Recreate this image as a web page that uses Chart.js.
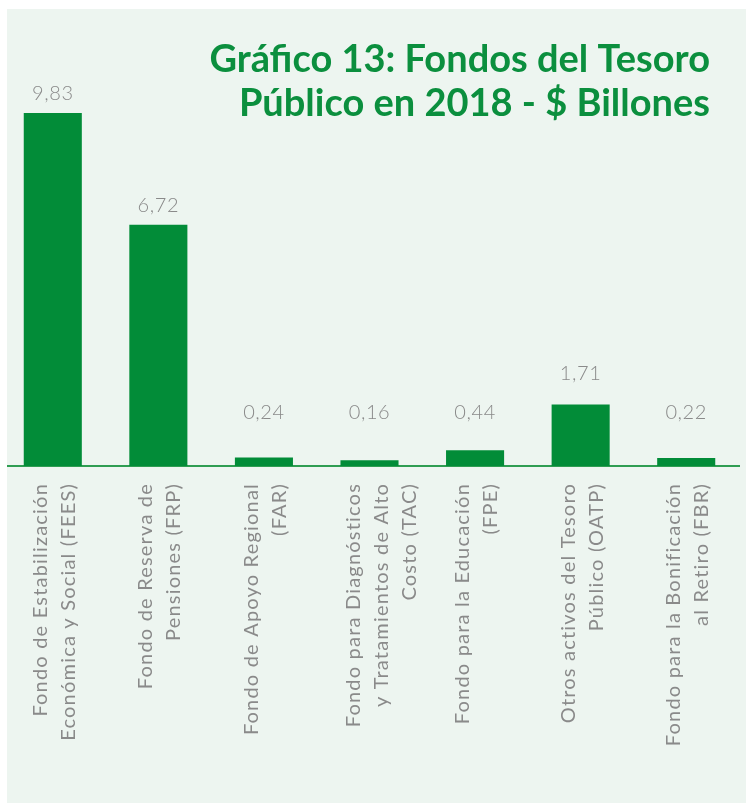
<!DOCTYPE html>
<html>
<head>
<meta charset="utf-8">
<script src="https://cdn.jsdelivr.net/npm/chart.js@4/dist/chart.umd.min.js"></script>
<style>
  html, body { margin: 0; padding: 0; background: #ffffff; }
  #wrap { position: relative; width: 746px; height: 803px; }
</style>
</head>
<body>
<div id="wrap"><canvas id="c" width="746" height="803"></canvas></div>
<script>
const titleLines = ["Gráfico 13: Fondos del Tesoro", "Público en 2018 - $ Billones"];
const categories = [
  ["Fondo de Estabilización", "Económica y Social (FEES)"],
  ["Fondo de Reserva de", "Pensiones (FRP)"],
  ["Fondo de Apoyo Regional", "(FAR)"],
  ["Fondo para Diagnósticos", "y Tratamientos de Alto", "Costo (TAC)"],
  ["Fondo para la Educación", "(FPE)"],
  ["Otros activos del Tesoro", "Público (OATP)"],
  ["Fondo para la Bonificación", "al Retiro (FBR)"]
];
const values = [9.83, 6.72, 0.24, 0.16, 0.44, 1.71, 0.22];

const GREEN = '#028c38';
const PANEL = '#edf5f0';
const GREY = '#8a8a8a';
const LABEL_FONT = 'Lato, "Open Sans", sans-serif';
const TITLE_FONT = 'Lato, "Open Sans", sans-serif';

const decor = {
  id: 'decor',
  beforeDraw(chart) {
    const ctx = chart.ctx;
    ctx.save();
    ctx.fillStyle = '#ffffff';
    ctx.fillRect(0, 0, chart.width, chart.height);
    ctx.fillStyle = PANEL;
    ctx.fillRect(7, 9, chart.width - 7, chart.height - 9);
    ctx.restore();
  },
  beforeDatasetsDraw(chart) {
    const ctx = chart.ctx;
    const y0 = chart.scales.y.getPixelForValue(0);
    ctx.save();
    ctx.strokeStyle = '#2f9d52';
    ctx.lineWidth = 2;
    ctx.beginPath();
    ctx.moveTo(7, y0);
    ctx.lineTo(740, y0);
    ctx.stroke();
    ctx.restore();
  },
  afterDraw(chart) {
    const ctx = chart.ctx;
    const xs = chart.scales.x;
    const ys = chart.scales.y;
    const meta = chart.getDatasetMeta(0);
    ctx.save();
    // value labels
    ctx.fillStyle = GREY;
    ctx.font = '300 20px ' + LABEL_FONT;
    ctx.letterSpacing = '0.6px';
    ctx.textAlign = 'center';
    ctx.textBaseline = 'alphabetic';
    const floorY = ys.getPixelForValue(0) - 47;
    meta.data.forEach((bar, i) => {
      const y = Math.min(bar.y - 13 - (bar.base - bar.y > 40 && bar.base - bar.y < 100 ? 12 : 0), floorY);
      ctx.fillText(values[i].toFixed(2).replace('.', ','), bar.x, y);
    });
    // category labels (rotated)
    const lh = 28;
    const top = ys.getPixelForValue(0) + 17;
    ctx.font = '400 20px ' + LABEL_FONT;
    ctx.letterSpacing = '1.2px';
    ctx.textAlign = 'right';
    categories.forEach((lines, i) => {
      const cx = xs.getPixelForValue(i);
      const n = lines.length;
      lines.forEach((line, j) => {
        const bx = cx - 2 - 4 * (n - 1) + j * lh;
        ctx.save();
        ctx.translate(bx, top);
        ctx.rotate(-Math.PI / 2);
        ctx.fillText(line, 0, 0);
        ctx.restore();
      });
    });
    // title
    ctx.letterSpacing = '0px';
    ctx.fillStyle = '#0b8f3e';
    ctx.font = 'bold 38px ' + TITLE_FONT;
    ctx.textAlign = 'right';
    ctx.fillText(titleLines[0], 710, 72);
    ctx.fillText(titleLines[1], 710, 116);
    ctx.restore();
  }
};

new Chart(document.getElementById('c'), {
  type: 'bar',
  data: {
    labels: categories,
    datasets: [{
      data: values,
      backgroundColor: GREEN,
      borderWidth: 0,
      barPercentage: 0.55,
      categoryPercentage: 1.0
    }]
  },
  options: {
    responsive: false,
    devicePixelRatio: 1,
    animation: false,
    layout: { padding: { left: 0, right: 7, top: 35, bottom: 337 } },
    plugins: { legend: { display: false }, tooltip: { enabled: false }, title: { display: false } },
    scales: {
      x: { display: false, grid: { display: false } },
      y: { display: false, min: 0, max: 12 }
    }
  },
  plugins: [decor]
});
</script>
</body>
</html>
